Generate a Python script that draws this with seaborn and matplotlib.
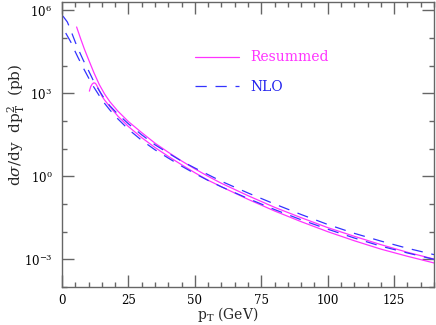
import numpy as np
import pandas as pd
import matplotlib
matplotlib.use("Agg")
import matplotlib.pyplot as plt
import matplotlib.ticker as mticker
from matplotlib.lines import Line2D
import seaborn as sns

# Resummed, upper curve
res_hi_pt = [5.5, 7, 8.5, 10, 12, 14, 16, 18, 21, 25, 30, 35, 40, 45, 50, 55, 60,
             70, 80, 90, 100, 110, 120, 130, 140]
res_hi = [2.5e5, 9.5e4, 3.8e4, 1.66e4, 5.6e3, 2.1e3, 955, 500, 229, 95, 38, 15.8, 7.4,
          3.6, 1.86, 1.0, 0.56, 0.20, 0.076, 0.032, 0.014, 6.8e-3, 3.4e-3, 1.8e-3, 1.02e-3]

# Resummed, lower curve (turns over at small pT)
res_lo_pt = [10.3, 10.8, 11.4, 12.0, 12.6, 13, 14, 15, 16, 18, 21, 25, 30, 35, 40, 45,
             50, 55, 60, 70, 80, 90, 100, 110, 120, 130, 140]
res_lo = [1.2e3, 1.74e3, 2.19e3, 2.4e3, 2.29e3, 2.0e3, 1.3e3, 800, 575, 331, 151, 63,
          25, 11, 5.25, 2.63, 1.35, 0.72, 0.42, 0.148, 0.056, 0.023, 0.010, 4.7e-3,
          2.34e-3, 1.29e-3, 7.4e-4]

# NLO, upper curve
nlo_hi_pt = [0.3, 2, 3, 4, 5, 6, 8, 10, 12, 14, 16, 18, 21, 25, 30, 35, 40, 45, 50, 55,
             60, 70, 80, 90, 100, 110, 120, 130, 140]
nlo_hi = [6.3e5, 3.8e5, 2.24e5, 1.26e5, 7.1e4, 4.2e4, 1.58e4, 6.6e3, 2.63e3, 1.26e3, 630,
          355, 178, 79, 31.6, 13.8, 6.9, 3.55, 2.0, 1.15, 0.66, 0.25, 0.10, 0.0417,
          0.0182, 8.7e-3, 4.57e-3, 2.51e-3, 1.48e-3]

# NLO, lower curve
nlo_lo_pt = [1.4, 3.3, 5, 6, 8, 10, 12, 14, 16, 18, 21, 25, 30, 35, 40, 45, 50, 55, 60,
             70, 80, 90, 100, 110, 120, 130, 140]
nlo_lo = [1.51e5, 7.2e4, 3.16e4, 2.0e4, 8.3e3, 3.63e3, 1.66e3, 832, 437, 251, 120, 50,
          20, 9.1, 4.57, 2.34, 1.26, 0.71, 0.417, 0.158, 0.063, 0.0269, 0.0123, 5.9e-3,
          3.0e-3, 1.7e-3, 1.0e-3]

labels = ["Resummed", "NLO"]
c_res = "#ff33ff"
c_nlo = "#3333ff"

sns.set_style("ticks")
plt.rcParams["font.family"] = ["DejaVu Serif"]
plt.rcParams["mathtext.fontset"] = "dejavuserif"

fig = plt.figure(figsize=(4.36, 3.25), dpi=100)
ax = fig.add_axes([62 / 436, 38 / 325, 372 / 436, 285 / 325])

dash = (0, (9, 7))
sns.lineplot(x=res_hi_pt, y=res_hi, color=c_res, lw=0.9, sort=False, estimator=None, ax=ax)
sns.lineplot(x=res_lo_pt, y=res_lo, color=c_res, lw=0.9, sort=False, estimator=None, ax=ax)
sns.lineplot(x=nlo_hi_pt, y=nlo_hi, color=c_nlo, lw=0.9, sort=False, estimator=None,
             linestyle=dash, ax=ax)
sns.lineplot(x=nlo_lo_pt, y=nlo_lo, color=c_nlo, lw=0.9, sort=False, estimator=None,
             linestyle=dash, ax=ax)

ax.set_yscale("log")
ax.set_xlim(0, 140)
ax.set_ylim(1e-4, 2e6)

ax.xaxis.set_major_locator(mticker.MultipleLocator(25))
ax.xaxis.set_minor_locator(mticker.MultipleLocator(5))
ax.yaxis.set_major_locator(mticker.FixedLocator([1e-3, 1e0, 1e3, 1e6]))
ax.yaxis.set_major_formatter(mticker.LogFormatterMathtext())
ax.yaxis.set_minor_locator(mticker.FixedLocator([10.0 ** k for k in range(-4, 7)]))
ax.yaxis.set_minor_formatter(mticker.NullFormatter())

frame = "#666666"
for s in ax.spines.values():
    s.set_color(frame)
    s.set_linewidth(1.0)
ax.tick_params(which="both", direction="in", top=True, right=True, color=frame,
               width=1.0, labelsize=8.5, labelcolor="black")
ax.tick_params(which="major", length=8.5)
ax.tick_params(which="minor", length=3.5)
ax.tick_params(axis="x", pad=5)
ax.tick_params(axis="y", pad=7)

ax.set_xlabel(r"p$_{\rm T}$ (GeV)", fontsize=10)
ax.set_ylabel(r"d$\sigma$/dy  dp$_{\rm T}^2$  (pb)", fontsize=11)
ax.xaxis.set_label_coords(0.446, -0.063)
ax.yaxis.set_label_coords(-0.095, 0.57)

handles = [Line2D([], [], color=c_res, lw=0.9),
           Line2D([], [], color=c_nlo, lw=0.9, linestyle=dash)]
ax.legend(handles, labels, loc="upper left", bbox_to_anchor=(0.3575, 0.83),
          frameon=False, fontsize=10, handlelength=3.2, handletextpad=0.8,
          labelspacing=1.1, borderpad=0, borderaxespad=0,
          labelcolor=[c_res, "#2222ee"])

fig.savefig("out.png", dpi=100)
